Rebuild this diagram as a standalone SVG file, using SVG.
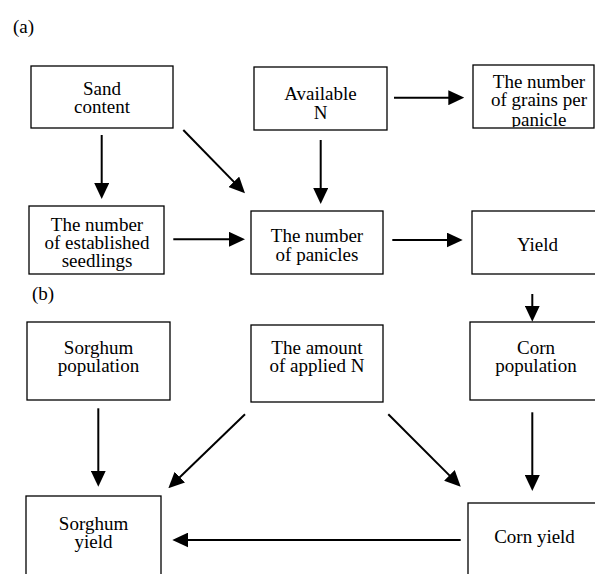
<svg xmlns="http://www.w3.org/2000/svg" width="595" height="574" viewBox="0 0 595 574">
<style>
.box{fill:#fff;stroke:#000;stroke-width:1.3}
.t{font-family:'Liberation Serif','DejaVu Serif',serif;font-size:19px;fill:#000}
.c{text-anchor:middle}
.ln{stroke:#000;stroke-width:2;fill:none;marker-end:url(#ah)}
</style>
<defs>
<marker id="ah" markerUnits="userSpaceOnUse" markerWidth="16" markerHeight="15" refX="12" refY="7.5" orient="auto">
<path d="M0,0 L16,7.5 L0,15 z" fill="#000"/>
</marker>
<clipPath id="cg"><rect x="473" y="65" width="121" height="62.3"/></clipPath>
</defs>
<rect width="595" height="574" fill="#fff"/>
<g font-family="Liberation Serif, DejaVu Serif, serif" font-size="19">
<text class="t" x="13" y="33" font-size="20">(a)</text>
<text class="t" x="32" y="300" font-size="20">(b)</text>
<g id="sand"><rect class="box" x="31" y="66" width="142" height="62"/><text class="t c" x="102" y="95">Sand</text><text class="t c" x="102" y="113">content</text></g>
<g id="availableN"><rect class="box" x="254" y="67" width="133" height="63"/><text class="t c" x="320.5" y="100">Available</text><text class="t c" x="320.5" y="119">N</text></g>
<g id="grains"><rect class="box" x="473" y="65" width="121" height="63"/><g clip-path="url(#cg)"><text class="t c" x="539" y="87.5">The number</text><text class="t c" x="539" y="106">of grains per</text><text class="t c" x="539" y="125.5">panicle</text></g></g>
<g id="seedlings"><rect class="box" x="29" y="206" width="135" height="68"/><text class="t c" x="97" y="230.5">The number</text><text class="t c" x="97" y="248.5">of established</text><text class="t c" x="97" y="267">seedlings</text></g>
<g id="panicles"><rect class="box" x="251" y="211" width="132" height="63"/><text class="t c" x="317" y="242">The number</text><text class="t c" x="317" y="260.5">of panicles</text></g>
<g id="yield"><rect class="box" x="472" y="211" width="130" height="63"/><text class="t c" x="537.5" y="250.7">Yield</text></g>
<g id="sorghumPop"><rect class="box" x="27" y="322" width="143" height="78"/><text class="t c" x="98.5" y="354">Sorghum</text><text class="t c" x="98.5" y="372">population</text></g>
<g id="appliedN"><rect class="box" x="251" y="325" width="132" height="77"/><text class="t c" x="317" y="354">The amount</text><text class="t c" x="317" y="372">of applied N</text></g>
<g id="cornPop"><rect class="box" x="470" y="322" width="134" height="78"/><text class="t c" x="536" y="353.5">Corn</text><text class="t c" x="536" y="371.5">population</text></g>
<g id="sorghumYield"><rect class="box" x="26" y="496" width="135" height="100"/><text class="t c" x="93.5" y="529.5">Sorghum</text><text class="t c" x="93.5" y="547.5">yield</text></g>
<g id="cornYield"><rect class="box" x="468" y="503" width="140" height="100"/><text class="t c" x="534.5" y="543.3">Corn yield</text></g>
</g>
<g id="connectors">
<path class="ln" d="M101.7,135 L101.7,195"/>
<path class="ln" d="M183.3,130 L242.2,190.4"/>
<path class="ln" d="M173.3,239.3 L241,239.3"/>
<path class="ln" d="M320.7,140 L320.7,200"/>
<path class="ln" d="M394,97.7 L460.3,97.7"/>
<path class="ln" d="M392.3,240 L458.7,240"/>
<path class="ln" d="M532.3,294 L532.3,317.7"/>
<path class="ln" d="M98.3,408.3 L98.3,482.7"/>
<path class="ln" d="M245,414.3 L171.2,485.5"/>
<path class="ln" d="M388.3,414.3 L457.9,483.9"/>
<path class="ln" d="M532.3,412.3 L532.3,487"/>
<path class="ln" d="M460.7,540 L176.3,540"/>
</g>
</svg>
